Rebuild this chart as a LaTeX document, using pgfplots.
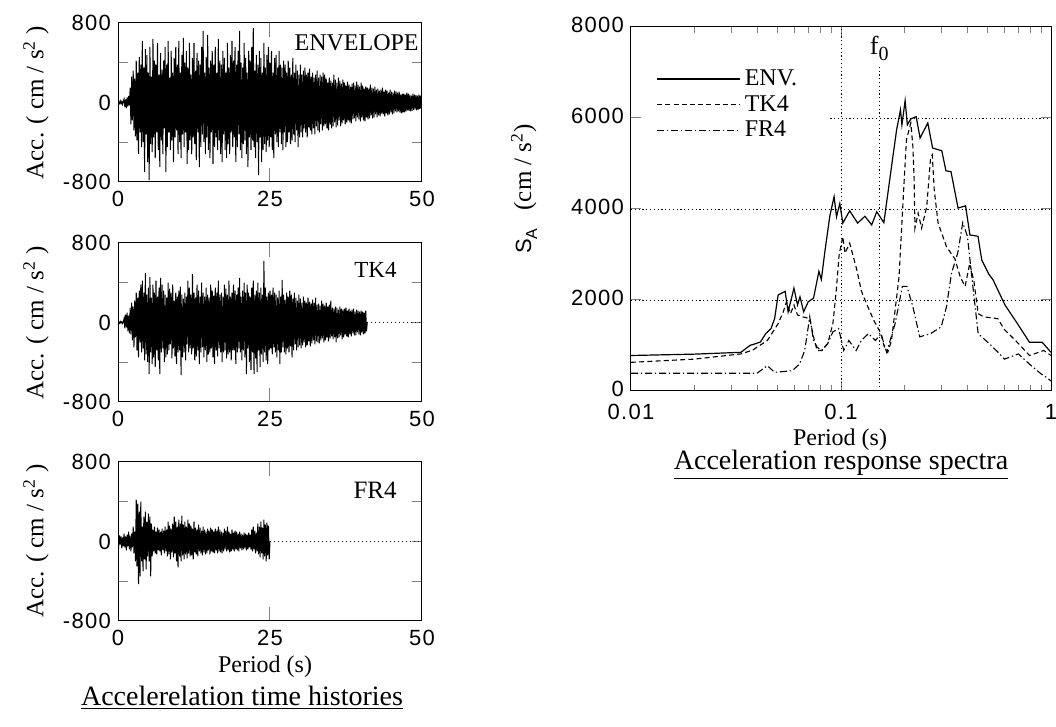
\documentclass[border=0pt]{standalone}
\usepackage{fontspec}
\setmainfont{Liberation Serif}
\newfontfamily\tickfont[LetterSpace=6]{Liberation Sans}
\newfontfamily\sansf{Liberation Sans}
\usepackage{pgfplots}
\pgfplotsset{compat=1.18}
\pgfplotsset{
  thist/.style={
    scale only axis, width=152pt, height=79.5pt, anchor=south west,
    xmin=0, xmax=50, ymin=-800, ymax=800,
    xtick={0,25,50}, xticklabels={0,25,50},
    ytick={-800,-400,0,400,800}, yticklabels={-800,{},0,{},800},
    tick align=inside,
    xtick style={/pgfplots/major tick length=7pt, line width=0.5pt},
    ytick style={/pgfplots/major tick length=5pt, line width=0.5pt},
    axis line style={line width=0.5pt},
    tick label style={font=\tickfont\fontsize{11}{13}\selectfont},
    xticklabel style={yshift=-1pt},
  },
  acc/.style={black, line width=0.5pt},
}
\begin{document}
\begin{tikzpicture}
\useasboundingbox (0,0) rectangle (528pt,363.5pt);

% ---------------- ENVELOPE ----------------
\begin{axis}[thist, at={(59pt,272.5pt)}]
\addplot[acc] table[row sep=\\, header=false, x expr=\coordindex*0.125, y index=0] {
0\\8\\-10\\15\\-12\\10\\-18\\12\\
35\\-45\\30\\-60\\50\\-40\\65\\-30\\
150\\-220\\260\\-180\\320\\-280\\240\\-340\\
420\\-380\\300\\-520\\460\\-300\\380\\-450\\
620\\-400\\350\\-700\\540\\-320\\480\\-600\\
300\\-780\\560\\-420\\260\\-500\\640\\-350\\
420\\-560\\380\\-300\\600\\-480\\280\\-650\\
500\\-380\\330\\-520\\420\\-260\\560\\-700\\
380\\-450\\620\\-300\\250\\-480\\520\\-380\\
300\\-600\\450\\-350\\560\\-280\\380\\-520\\
620\\-400\\300\\-560\\480\\-320\\650\\-450\\
400\\-300\\520\\-620\\350\\-480\\600\\-380\\
280\\-520\\450\\-350\\600\\-420\\320\\-580\\
500\\-300\\420\\-650\\380\\-450\\560\\-320\\
720\\-400\\300\\-520\\460\\-350\\680\\-480\\
350\\-560\\420\\-300\\520\\-620\\380\\-450\\
560\\-350\\300\\-480\\640\\-380\\420\\-520\\
380\\-600\\520\\-320\\450\\-480\\300\\-560\\
600\\-420\\350\\-520\\480\\-300\\620\\-450\\
420\\-350\\560\\-600\\380\\-450\\520\\-320\\
720\\-480\\400\\-560\\350\\-420\\600\\-380\\
450\\-520\\300\\-650\\520\\-350\\420\\-480\\
560\\-380\\750\\-450\\320\\-560\\480\\-400\\
380\\-730\\520\\-350\\450\\-600\\300\\-480\\
600\\-420\\350\\-500\\480\\-380\\560\\-450\\
400\\-350\\520\\-480\\300\\-560\\450\\-320\\
480\\-400\\350\\-450\\520\\-300\\380\\-420\\
350\\-480\\420\\-300\\380\\-450\\300\\-400\\
420\\-300\\350\\-420\\280\\-380\\450\\-320\\
300\\-400\\380\\-280\\320\\-450\\280\\-350\\
380\\-300\\280\\-350\\320\\-260\\350\\-300\\
280\\-350\\300\\-250\\340\\-280\\260\\-320\\
300\\-260\\250\\-320\\280\\-240\\320\\-280\\
250\\-300\\280\\-220\\260\\-280\\300\\-240\\
280\\-220\\240\\-260\\200\\-280\\250\\-220\\
220\\-260\\200\\-240\\280\\-200\\230\\-250\\
200\\-230\\250\\-180\\220\\-240\\190\\-210\\
230\\-180\\200\\-220\\170\\-200\\210\\-180\\
180\\-200\\160\\-210\\190\\-170\\200\\-160\\
170\\-190\\210\\-150\\180\\-170\\160\\-190\\
200\\-150\\170\\-180\\140\\-190\\160\\-150\\
150\\-170\\140\\-160\\180\\-130\\150\\-160\\
140\\-150\\160\\-120\\130\\-150\\140\\-130\\
120\\-140\\130\\-110\\150\\-120\\110\\-140\\
130\\-110\\120\\-130\\100\\-120\\130\\-100\\
110\\-120\\100\\-110\\120\\-90\\110\\-100\\
100\\-90\\110\\-100\\80\\-110\\90\\-100\\
90\\-100\\80\\-90\\100\\-80\\90\\-85\\
80\\-90\\70\\-85\\90\\-75\\80\\-70\\
75\\-80\\70\\-75\\80\\-65\\70\\-60\\
40\\
};
\end{axis}

% ---------------- TK4 ----------------
\begin{axis}[thist, at={(59pt,162.5pt)}]
\addplot[acc] table[row sep=\\, header=false, x expr=\coordindex*0.125, y index=0] {
0\\5\\-8\\10\\-5\\8\\-10\\6\\
40\\-60\\80\\-50\\100\\-90\\70\\-110\\
150\\-120\\200\\-180\\160\\-250\\220\\-150\\
300\\-280\\250\\-350\\320\\-200\\380\\-300\\
420\\-260\\300\\-380\\500\\-320\\280\\-400\\
350\\-520\\460\\-300\\250\\-420\\380\\-350\\
300\\-450\\420\\-280\\260\\-380\\350\\-520\\
450\\-300\\380\\-260\\320\\-400\\280\\-350\\
250\\-320\\400\\-280\\340\\-220\\300\\-360\\
380\\-260\\220\\-340\\300\\-420\\260\\-300\\
320\\-280\\360\\-530\\280\\-350\\240\\-300\\
300\\-380\\260\\-220\\420\\-300\\350\\-260\\
280\\-320\\490\\-260\\300\\-380\\250\\-340\\
380\\-280\\320\\-420\\260\\-300\\400\\-250\\
300\\-350\\260\\-280\\350\\-400\\280\\-320\\
250\\-300\\380\\-260\\320\\-350\\270\\-420\\
350\\-280\\300\\-340\\420\\-260\\280\\-300\\
300\\-400\\260\\-300\\380\\-280\\340\\-360\\
280\\-320\\420\\-300\\260\\-380\\300\\-280\\
380\\-280\\320\\-420\\280\\-300\\350\\-260\\
450\\-300\\260\\-380\\320\\-280\\400\\-350\\
300\\-520\\380\\-260\\300\\-400\\260\\-480\\
350\\-300\\420\\-520\\280\\-360\\320\\-500\\
400\\-280\\300\\-450\\350\\-320\\280\\-400\\
620\\-300\\350\\-380\\260\\-420\\300\\-280\\
320\\-260\\280\\-320\\350\\-250\\300\\-300\\
280\\-350\\250\\-280\\320\\-420\\260\\-300\\
430\\-250\\280\\-300\\230\\-320\\300\\-260\\
260\\-300\\320\\-240\\280\\-350\\240\\-280\\
300\\-220\\250\\-280\\220\\-250\\280\\-230\\
240\\-260\\200\\-230\\260\\-200\\220\\-250\\
200\\-230\\250\\-190\\210\\-240\\190\\-210\\
230\\-180\\200\\-220\\250\\-190\\180\\-200\\
190\\-210\\170\\-180\\220\\-160\\190\\-200\\
170\\-180\\200\\-150\\160\\-190\\180\\-160\\
220\\-140\\150\\-170\\140\\-150\\160\\-200\\
150\\-160\\130\\-150\\160\\-130\\140\\-170\\
130\\-150\\140\\-120\\150\\-140\\120\\-150\\
140\\-120\\120\\-140\\130\\-110\\140\\-130\\
110\\-130\\130\\-100\\120\\-120\\110\\-130\\
120\\-100\\110\\-120\\100\\-110\\120\\-90\\
0\\
};
\addplot[black, line width=0.4pt, dash pattern=on 0.6pt off 1.4pt] coordinates {(41,0) (50,0)};
\end{axis}

% ---------------- FR4 ----------------
\begin{axis}[thist, at={(59pt,53pt)}]
\addplot[acc] table[row sep=\\, header=false, x expr=\coordindex*0.125, y index=0] {
20\\-40\\60\\-30\\50\\-70\\40\\-50\\
80\\-60\\50\\-90\\70\\-50\\100\\-80\\
60\\-100\\80\\-60\\150\\-120\\100\\-200\\
420\\-250\\380\\-430\\300\\-350\\400\\-200\\
150\\-300\\250\\-180\\300\\-280\\200\\-150\\
280\\-200\\250\\-350\\180\\-150\\120\\-100\\
150\\-120\\100\\-130\\140\\-90\\120\\-100\\
100\\-140\\130\\-90\\110\\-120\\150\\-100\\
120\\-150\\200\\-130\\160\\-180\\130\\-110\\
180\\-160\\250\\-120\\200\\-200\\150\\-260\\
220\\-150\\180\\-200\\260\\-140\\170\\-180\\
200\\-130\\150\\-170\\220\\-120\\180\\-150\\
160\\-140\\130\\-180\\200\\-110\\140\\-130\\
120\\-150\\170\\-100\\140\\-120\\110\\-140\\
150\\-110\\120\\-130\\100\\-120\\130\\-90\\
110\\-130\\140\\-100\\120\\-110\\100\\-120\\
130\\-90\\110\\-120\\150\\-100\\120\\-110\\
100\\-120\\90\\-100\\130\\-80\\110\\-100\\
150\\-90\\100\\-110\\80\\-100\\120\\-80\\
90\\-100\\110\\-80\\100\\-90\\80\\-100\\
100\\-70\\80\\-90\\70\\-80\\90\\-70\\
80\\-90\\70\\-80\\90\\-60\\70\\-80\\
120\\-100\\150\\-80\\110\\-120\\90\\-100\\
180\\-130\\150\\-160\\200\\-120\\140\\-180\\
220\\-150\\170\\-200\\190\\-140\\160\\-180\\
0\\
};
\addplot[black, line width=0.4pt, dash pattern=on 0.6pt off 1.4pt] coordinates {(25,0) (50,0)};
\end{axis}

% ---------------- Spectra ----------------
\begin{axis}[
  scale only axis, width=210pt, height=182pt, anchor=south west, at={(315.5pt,168pt)},
  xmode=log, xmin=0.01, xmax=1, ymin=0, ymax=8000,
  xtick={0.01,0.1,1}, xticklabels={0.01,0.1,1},
  minor xtick={0.02,0.03,0.04,0.05,0.06,0.07,0.08,0.09,0.2,0.3,0.4,0.5,0.6,0.7,0.8,0.9},
  ytick={0,2000,4000,6000,8000}, yticklabels={0,2000,4000,6000,8000},
  tick align=inside,
  major tick length=5pt, minor tick length=3pt,
  tick style={line width=0.5pt},
  axis line style={line width=0.5pt},
  tick label style={font=\tickfont\fontsize{11}{13}\selectfont},
  xticklabel style={yshift=-3pt},
  yticklabel style={yshift=1pt},
  legend style={draw=none, fill=none, at={(axis description cs:0.06,0.895)}, anchor=north west,
    font=\fontsize{12}{14}\selectfont, row sep=-0.5pt, inner sep=0pt},
  legend cell align=left,
  legend image code/.code={\draw[#1] (0pt,0pt) -- (41.5pt,0pt);},
  grd/.style={black, line width=0.45pt, dash pattern=on 0.6pt off 1.3pt, forget plot},
]
\addplot[grd] coordinates {(0.01,2000) (1,2000)};
\addplot[grd] coordinates {(0.01,4000) (1,4000)};
\addplot[grd] coordinates {(0.089,6000) (1,6000)};
\addplot[grd] coordinates {(0.1,0) (0.1,8000)};
\addplot[grd] coordinates {(0.152,0) (0.152,7150)};
% ENV
\addplot[black, line width=0.6pt] coordinates {
(0.01,780)(0.02,810)(0.0334,850)(0.0368,1000)(0.0413,1075)(0.0438,1260)(0.0464,1370)(0.0483,1590)
(0.0502,2110)(0.0542,2190)(0.056,1740)(0.0597,2260)(0.0621,1890)(0.0638,2070)(0.0664,1740)(0.0698,1960)
(0.074,2040)(0.0785,2630)(0.0806,2450)(0.084,3100)(0.0885,3850)(0.0927,4270)(0.0952,3830)(0.0987,4120)
(0.102,3690)(0.11,3960)(0.12,3690)(0.13,3840)(0.14,3650)(0.148,3940)(0.16,3700)(0.174,4930)
(0.184,5740)(0.192,6180)(0.195,5850)(0.202,6380)(0.207,5850)(0.215,5980)(0.228,6030)(0.238,5560)
(0.259,5890)(0.273,5340)(0.302,5280)(0.316,4840)(0.334,4820)(0.361,4020)(0.392,4070)(0.411,3430)
(0.449,3400)(0.468,2880)(0.507,2560)(0.53,2440)(0.604,1890)(0.692,1480)(0.79,1070)(0.908,1070)(1,850)
};
\addlegendentry{ENV.}
% TK4
\addplot[black, line width=0.55pt, dash pattern=on 2.5pt off 1.6pt] coordinates {
(0.01,630)(0.02,700)(0.0334,815)(0.038,900)(0.0446,1110)(0.0502,1480)(0.0531,1740)(0.055,1960)
(0.0575,1700)(0.0597,1890)(0.0621,1670)(0.0657,1630)(0.071,1590)(0.074,1190)(0.077,890)(0.081,890)
(0.0864,1040)(0.0915,1480)(0.095,2220)(0.098,3000)(0.102,3390)(0.1045,3030)(0.11,3250)(0.119,2660)
(0.125,2200)(0.132,1930)(0.143,1560)(0.155,1260)(0.161,960)(0.167,850)(0.174,1110)(0.189,2510)
(0.2,4640)(0.205,5520)(0.215,5890)(0.22,5370)(0.223,4640)(0.225,3580)(0.233,3910)(0.242,3580)
(0.256,4050)(0.267,5120)(0.272,5190)(0.278,4420)(0.29,3690)(0.318,3170)(0.349,2900)(0.37,2500)
(0.39,2300)(0.41,2800)(0.43,2400)(0.45,1700)(0.478,1630)(0.558,1590)(0.6,1350)(0.678,1110)
(0.79,780)(0.925,890)(1,780)
};
\addlegendentry{TK4}
% FR4
\addplot[black, line width=0.55pt, dash pattern=on 3.5pt off 1.4pt on 0.7pt off 1.4pt] coordinates {
(0.01,390)(0.0398,390)(0.0446,555)(0.0483,410)(0.0585,445)(0.0634,590)(0.0672,890)(0.071,1630)
(0.074,1110)(0.077,960)(0.081,890)(0.0864,1040)(0.0915,1300)(0.0975,1370)(0.103,890)(0.109,1110)
(0.118,890)(0.125,1110)(0.135,1260)(0.146,1110)(0.155,1260)(0.165,850)(0.181,1480)(0.196,2300)
(0.206,2300)(0.22,1850)(0.237,1190)(0.267,1260)(0.3,1410)(0.318,1850)(0.336,2590)(0.36,3040)
(0.38,3700)(0.4,3400)(0.43,2070)(0.45,1260)(0.5,1070)(0.57,815)(0.6,700)(0.7,815)
(0.79,590)(0.9,370)(0.95,300)(1,220)
};
\addlegendentry{FR4}
\node[anchor=base, inner sep=0pt, font=\fontsize{13}{15}\selectfont] at (axis cs:0.152,7390) {f\raisebox{-0.45ex}{\fontsize{10}{12}\selectfont 0}};
\end{axis}

% ---------------- texts ----------------
\begin{scope}[every node/.style={inner sep=0pt}]
\node[anchor=east, font=\fontsize{12}{14}\selectfont] at (209.5pt,342pt) {ENVELOPE};
\node[anchor=east, font=\fontsize{11.5}{14}\selectfont] at (198.5pt,228.5pt) {TK4};
\node[anchor=east, font=\fontsize{12.5}{14}\selectfont] at (198.5pt,118.5pt) {FR4};
\foreach \yc in {312.25,202,93} {
  \node[rotate=90, font=\fontsize{12.5}{14}\selectfont] at (18pt,\yc pt) {Acc. ( cm / s\textsuperscript{2} )};
}
\node[font=\fontsize{12}{14}\selectfont] at (132.5pt,30pt) {Period (s)};
\node[font=\fontsize{14}{16}\selectfont] at (121pt,14.5pt) {\underline{Accelerelation time histories}};
\node[font=\fontsize{12}{14}\selectfont] at (420pt,143.5pt) {Period (s)};
\node[font=\fontsize{14}{16}\selectfont] at (420.5pt,131pt) {\underline{Acceleration response spectra}};
\node[rotate=90] at (262pt,269pt) {{\sansf\fontsize{11}{13}\selectfont S\raisebox{-0.5ex}{\fontsize{8}{10}\selectfont A}}\hspace{9pt}{\fontsize{12.5}{14}\selectfont (cm / s\textsuperscript{2})}};
\end{scope}
\end{tikzpicture}
\end{document}
